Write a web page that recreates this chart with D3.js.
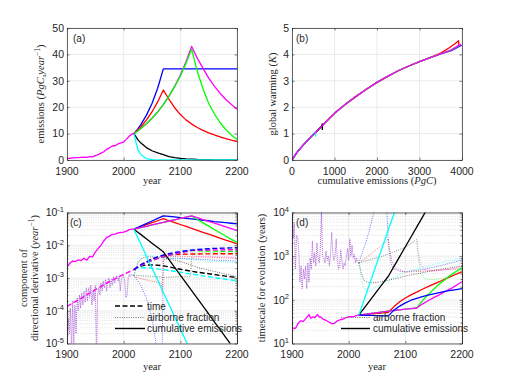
<!DOCTYPE html>
<html><head><meta charset="utf-8">
<script src="https://cdn.jsdelivr.net/npm/d3@7"></script>
<style>body{margin:0;background:#fff}</style></head>
<body>
<script>
// ---------------- DATA ----------------
// Panel (a): emissions (PgC/yr)
const histYears = [1900,1905,1910,1915,1920,1925,1930,1935,1940,1945,1950,1955,1960,1965,1970,1975,1980,1985,1990,1995,2000,2005,2010,2015,2018];
const histEmis  = [0.53,0.66,0.82,0.88,0.93,0.98,1.05,1.03,1.30,1.20,1.63,2.04,2.58,3.13,4.05,4.62,5.30,5.40,6.10,6.45,6.80,7.90,9.10,9.90,10.0];
const scenYears = [2018,2025,2030,2040,2050,2060,2070,2080,2090,2100,2110,2120,2130,2140,2150,2160,2170,2180,2190,2200];
const emisBlue    = [10,11.8,13.3,16.9,21.4,27.2,34.5,34.5,34.5,34.5,34.5,34.5,34.5,34.5,34.5,34.5,34.5,34.5,34.5,34.5];
const emisRed     = [10,11.4,12.5,15.1,18.2,22.0,26.5,23.0,19.8,17.2,15.2,13.6,12.3,11.2,10.3,9.5,8.8,8.1,7.5,7.0];
const emisMagenta = [10,11.0,11.9,13.7,15.8,18.2,21.0,24.2,27.9,32.2,37.2,43.0,38.5,34.8,31.0,28.0,25.3,23.0,21.0,19.2];
const emisGreen   = [10,11.0,11.9,13.7,15.8,18.2,21.0,24.2,27.8,31.8,36.6,42.0,33.5,27.0,21.5,17.5,14.2,11.6,9.5,7.8];
const emisBlack   = [10,7.7,6.5,4.7,3.5,2.7,2.0,1.3,0.9,0.6,0.42,0.3,0.2,0.15,0.12,0.08,0.06,0.04,0.03,0.02];
const emisCyan    = [10,4.0,2.1,0.55,0.15,0.05,0.02,0.01,0,0,0,0,0,0,0,0,0,0,0,0];

// Panel (b): warming vs cumulative emissions
const cumBase  = [0,100,200,300,400,500,600,800,1000,1250,1500,1750,2000,2250,2500,2750,3000,3250,3500];
const warmBase = [0,0.25,0.45,0.63,0.8,0.96,1.12,1.45,1.77,2.1,2.4,2.68,2.94,3.17,3.38,3.56,3.73,3.88,4.02];
const cumTailBlue = [3750,3990],            warmTailBlue = [4.14,4.35];
const cumTailGreen = [3750,3950],           warmTailGreen = [4.16,4.35];
const cumTailMagenta = [3750,3960,3960],    warmTailMagenta = [4.17,4.38,4.31];
const cumTailRed = [3500,3700,3850,3920,3925], warmTailRed = [4.05,4.25,4.42,4.52,4.36];
const cumBlack = [0,100,200,300,400,500,600,690,714,714], warmBlack = [0,0.25,0.45,0.63,0.8,0.96,1.12,1.27,1.37,1.14];
const cumCyan  = [0,100,200,300,400,500,558,558],         warmCyan  = [0,0.25,0.45,0.63,0.8,0.96,1.08,0.89];

// Panel (c): components of directional derivative (1/yr)
const cSolidHist = [2.1e-3,2.8e-3,3.3e-3,3.2e-3,3.6e-3,3.4e-3,4.0e-3,3.5e-3,4.6e-3,4.4e-3,6.2e-3,8.0e-3,1.0e-2,1.35e-2,1.75e-2,1.9e-2,2.15e-2,2.2e-2,2.4e-2,2.45e-2,2.5e-2,2.7e-2,3.0e-2,3.1e-2,3.1e-2];
const cSolidBlue    = [3.1e-2,3.5e-2,3.85e-2,4.6e-2,5.5e-2,6.6e-2,7.9e-2,7.6e-2,7.3e-2,6.95e-2,6.65e-2,6.4e-2,6.1e-2,5.8e-2,5.6e-2,5.3e-2,5.1e-2,4.9e-2,4.7e-2,4.5e-2];
const cSolidRed     = [3.1e-2,3.42e-2,3.67e-2,4.23e-2,4.87e-2,5.6e-2,6.45e-2,5.6e-2,4.9e-2,4.3e-2,3.74e-2,3.27e-2,2.85e-2,2.48e-2,2.17e-2,1.89e-2,1.65e-2,1.44e-2,1.26e-2,1.1e-2];
const cSolidMagenta = [3.1e-2,3.3e-2,3.46e-2,3.8e-2,4.16e-2,4.56e-2,5.0e-2,5.5e-2,6.0e-2,6.6e-2,7.2e-2,7.9e-2,6.98e-2,6.1e-2,5.4e-2,4.7e-2,4.16e-2,3.65e-2,3.2e-2,2.8e-2];
const cSolidGreen   = [3.1e-2,3.3e-2,3.46e-2,3.8e-2,4.16e-2,4.56e-2,5.0e-2,5.5e-2,6.0e-2,6.6e-2,7.2e-2,7.8e-2,6.1e-2,4.84e-2,3.84e-2,3.04e-2,2.41e-2,1.91e-2,1.51e-2,1.23e-2];
const cSolidBlack   = [3.1e-2,2.5e-2,2.15e-2,1.58e-2,1.16e-2,8.6e-3,6.3e-3,3.66e-3,2.11e-3,1.22e-3,7.1e-4,4.1e-4,2.38e-4,1.38e-4,8.0e-5,4.6e-5,2.7e-5,1.55e-5,8.9e-6,5.2e-6];
const cSolidCyan    = [3.1e-2,1.7e-2,1.11e-2,4.7e-3,2.0e-3,8.6e-4,3.6e-4,1.55e-4,6.6e-5,2.8e-5,1.2e-5,5.1e-6,2.2e-6,9e-7,4e-7,1.7e-7,7e-8,3e-8,1.3e-8,5e-9];
const cDashHistYears = [1900,1925,1950,1975,2000,2018];
const cDashHist      = [1.35e-4,2.4e-4,4.4e-4,7.8e-4,1.3e-3,1.8e-3];
const cDashBlue    = [1.8e-3,2.2e-3,2.5e-3,3.1e-3,3.8e-3,4.4e-3,5.0e-3,5.5e-3,6.0e-3,6.4e-3,6.8e-3,7.1e-3,7.4e-3,7.6e-3,7.8e-3,8.0e-3,8.1e-3,8.2e-3,8.3e-3,8.4e-3];
const cDashRed     = [1.8e-3,2.2e-3,2.5e-3,3.1e-3,3.7e-3,4.3e-3,4.9e-3,5.1e-3,5.2e-3,5.3e-3,5.35e-3,5.4e-3,5.4e-3,5.45e-3,5.45e-3,5.5e-3,5.5e-3,5.5e-3,5.5e-3,5.5e-3];
const cDashMagenta = [1.8e-3,2.1e-3,2.4e-3,2.9e-3,3.4e-3,3.9e-3,4.4e-3,4.9e-3,5.4e-3,5.9e-3,6.4e-3,6.9e-3,7.0e-3,7.1e-3,7.1e-3,7.2e-3,7.2e-3,7.3e-3,7.3e-3,7.3e-3];
const cDashGreen   = [1.8e-3,2.1e-3,2.4e-3,2.9e-3,3.4e-3,3.9e-3,4.4e-3,4.9e-3,5.4e-3,5.9e-3,6.4e-3,6.9e-3,6.8e-3,6.7e-3,6.65e-3,6.6e-3,6.55e-3,6.5e-3,6.5e-3,6.5e-3];
const cDashBlack   = [1.8e-3,2.1e-3,2.3e-3,2.5e-3,2.5e-3,2.45e-3,2.35e-3,2.2e-3,2.0e-3,1.85e-3,1.72e-3,1.6e-3,1.5e-3,1.42e-3,1.35e-3,1.28e-3,1.2e-3,1.14e-3,1.08e-3,1.03e-3];
const cDashCyan    = [1.8e-3,2.0e-3,2.05e-3,2.05e-3,2.0e-3,1.9e-3,1.8e-3,1.7e-3,1.6e-3,1.5e-3,1.4e-3,1.32e-3,1.24e-3,1.16e-3,1.1e-3,1.03e-3,9.7e-4,9.2e-4,8.7e-4,8.3e-4];
const cDotHistYears = [1900,1902,1904,1906,1908,1910,1912,1914,1916,1918,1920,1922,1924,1926,1928,1930,1932,1934,1936,1938,1940,1942,1944,1946,1948,1950,1952,1954,1956,1958,1960,1962,1964,1966,1968,1970,1972,1974,1976,1978,1980,1982,1984,1986,1988,1990,1992,1994,1996,1998,2000,2002,2004,2006,2008,2010,2012,2014,2016,2018];
const cDotHist = [3e-6,6e-5,2e-5,1.2e-4,5e-6,2e-4,1e-5,1.5e-4,2e-5,2.5e-4,1.0e-4,3e-4,1.2e-4,3.5e-4,1.5e-4,4e-4,1.8e-4,5e-4,2e-4,5e-4,2.5e-4,6e-4,1.5e-4,4e-4,2e-4,6e-4,3e-6,3e-4,5e-4,3e-4,7e-4,4e-4,8e-4,5e-4,9e-4,4e-4,8e-4,1e-3,5e-4,9e-4,6e-4,1.1e-3,7e-4,1.0e-3,1.2e-3,8e-4,1.1e-3,4e-4,9e-4,1.1e-3,1.2e-3,8e-4,2.5e-4,3e-4,1.0e-3,1.3e-3,1.1e-3,1.3e-3,1.2e-3,1.2e-3];
const cDotBlueYears = [2018,2030,2040,2050,2058,2062,2066,2068,2070,2080,2100,2150,2200];
const cDotBlue      = [1.2e-3,6e-4,2.5e-4,6e-5,8e-6,3e-6,3e-6,8e-6,3.5e-3,4.0e-3,4.0e-3,3.6e-3,3.3e-3];
const cDotRedYears  = [2018,2030,2050,2066,2068,2070,2080,2100,2150,2200];
const cDotRed       = [1.1e-3,9.5e-4,8e-4,7e-4,3.5e-4,4.2e-3,4.5e-3,4.6e-3,4.3e-3,4.0e-3];
const cDotMagentaYears = [2018,2040,2070,2100,2118,2120,2125,2150,2200];
const cDotMagenta      = [1.2e-3,1.15e-3,1.05e-3,1.1e-3,1.1e-3,4.0e-3,4.6e-3,4.6e-3,4.3e-3];
const cDotGreenYears   = [2018,2040,2070,2100,2118,2120,2125,2150,2200];
const cDotGreen        = [1.2e-3,1.15e-3,1.05e-3,1.1e-3,1.1e-3,4.5e-3,5.5e-3,5.8e-3,5.6e-3];
const cDotBlackYears = [2018,2025,2030,2040,2070,2100,2135,2200];
const cDotBlack      = [1.2e-3,2.8e-3,3.8e-3,4.5e-3,4.2e-3,3.2e-3,2.0e-3,1.1e-3];
const cDotCyanYears  = [2018,2022,2025,2030,2040,2050,2070,2100,2150,2200];
const cDotCyan       = [1.2e-3,2.2e-3,3.5e-3,4.8e-3,5.0e-3,4.8e-3,4.3e-3,3.8e-3,3.3e-3,3.0e-3];

// Panel (d): timescale for evolution (years)
const dSolidHistYears = [1900,1905,1908,1910,1915,1920,1925,1930,1933,1937,1940,1945,1948,1950,1955,1960,1965,1970,1975,1980,1985,1990,1995,2000,2005,2010,2015,2018];
const dSolidHist = [23,22,24,28,33,32,38,46,38,41,39,46,40,41,36,34,31,28.5,29,33,35,36,39,41,41,42,44,45];
const dSolidBlue    = [45,44.5,44,44,43.5,43,43,58,72,85,98,108,118,128,137,147,156,164,172,180];
const dSolidRed     = [45,45.5,46,47.5,49,50.5,52,70,90,110,130,150,175,200,230,260,300,340,390,440];
const dSolidMagenta = [45,46,47,49,51,53,55,57,59,61,63,65,80,95,112,130,155,180,215,260];
const dSolidGreen   = [45,46,47,49,51,53,55,57,59,61,63,65,95,130,175,230,290,370,450,540];
const dSolidBlack   = [45,59,72,107,158,235,347,582,977,1640,2750,4620,7760,13000,21800,36500,61000,1e5,1.7e5,2.8e5];
const dSolidCyan    = [45,82,127,300,713,1690,4010,9500,22500,53000,1.25e5,3e5,7e5,1.6e6,3.8e6,9e6,2e7,5e7,1e8,2.5e8];
const dDotHistYears = cDotHistYears;
const dDotHist = [12000,2500,6000,500,3000,2800,1200,250,600,180,500,300,600,180,700,250,900,500,2200,700,1200,600,2000,900,700,1500,12000,1000,900,700,1300,800,1000,600,1100,3500,1200,800,1000,2500,900,500,600,1400,800,500,700,600,1000,1500,800,2500,1000,1800,900,1100,700,900,750,700];
const dDotBlueYears = [2018,2025,2030,2035,2040,2045,2050,2066,2068,2070,2075,2080,2090,2100,2125,2150,2175,2200];
const dDotBlue      = [700,1300,2000,3300,6000,11000,20000,20000,8000,1800,650,520,450,440,480,560,670,820];
const dDotCyanYears = [2018,2022,2026,2030,2035,2040,2050,2060,2080,2100,2150,2200];
const dDotCyan      = [700,350,200,160,155,165,200,240,330,430,650,900];
const dDotBlackYears = [2018,2022,2026,2030,2040,2050,2060,2070,2100,2150,2200];
const dDotBlack      = [700,420,300,260,245,250,265,280,350,470,600];
const dDotRedYears = [2018,2030,2040,2050,2060,2068,2070,2072,2076,2080,2090,2100,2150,2200];
const dDotRed      = [700,900,1150,1450,1850,2300,2500,1500,800,600,480,430,470,520];
const dDotMagentaYears = [2018,2040,2060,2080,2100,2118,2120,2123,2127,2135,2150,2200];
const dDotMagenta      = [700,850,1000,1250,1600,2300,2400,1200,650,480,450,560];
const dDotGreenYears = [2018,2040,2060,2080,2100,2118,2120,2123,2127,2135,2150,2175,2200];
const dDotGreen      = [700,850,1000,1250,1600,2300,2400,900,400,300,290,330,480];

// Ticks
const yearTicks = [1900,2000,2100,2200];
const emisTicks = [0,10,20,30,40,50];
const cumTicks  = [0,1000,2000,3000,4000];
const warmTicks = [0,1,2,3,4,5];
const cExps = [-5,-4,-3,-2,-1];
const dExps = [1,2,3,4];

// ---------------- DRAW ----------------
const AX = '#262626';
const COL = {blue:'#0000ff', red:'#ff0000', green:'#00ff00', magenta:'#ff00ff', black:'#000000', cyan:'#00ffff', hist:'#ff00ff', histDot:'#9a40d0'};
const svg = d3.select('body').append('svg').attr('width',512).attr('height',385)
  .style('font-family','"Liberation Sans", Arial, sans-serif');
const defs = svg.append('defs');

function panel(o){
  const x = d3.scaleLinear().domain(o.xd).range([o.l,o.r]);
  const y = (o.log ? d3.scaleLog() : d3.scaleLinear()).domain(o.yd).range([o.b,o.t]);
  const g = svg.append('g');
  if (o.log){
    const e0 = Math.round(Math.log10(o.yd[0])), e1 = Math.round(Math.log10(o.yd[1]));
    for (let e=e0; e<e1; e++) for (let m=2; m<=9; m++){
      const v = m*Math.pow(10,e);
      g.append('line').attr('x1',o.l).attr('x2',o.r).attr('y1',y(v)).attr('y2',y(v))
        .attr('stroke','#cfcfcf').attr('stroke-width',0.6).attr('stroke-dasharray','1,1.2');
    }
  }
  o.xt.forEach(v => g.append('line').attr('x1',x(v)).attr('x2',x(v)).attr('y1',o.t).attr('y2',o.b)
      .attr('stroke','#e2e2e2').attr('stroke-width',0.7));
  o.yt.forEach(v => g.append('line').attr('x1',o.l).attr('x2',o.r).attr('y1',y(v)).attr('y2',y(v))
      .attr('stroke','#e2e2e2').attr('stroke-width',0.7));
  defs.append('clipPath').attr('id','clip'+o.id).append('rect')
    .attr('x',o.l).attr('y',o.t).attr('width',o.r-o.l).attr('height',o.b-o.t);
  const data = svg.append('g').attr('clip-path',`url(#clip${o.id})`);
  return {x,y,g,data,o};
}

function line(p, xs, ys, color, style){
  const pts = xs.map((v,i)=>[v,ys[i]]);
  const gen = d3.line().x(d=>p.x(d[0])).y(d=>p.y(d[1]));
  const path = p.data.append('path').datum(pts).attr('d',gen).attr('fill','none')
    .attr('stroke',color).attr('stroke-linejoin','round');
  if (style==='solid') path.attr('stroke-width',1.3);
  if (style==='dash') path.attr('stroke-width',1.4).attr('stroke-dasharray','5,2.5');
  if (style==='dot') path.attr('stroke-width',1).attr('stroke-dasharray','1,1.3').attr('stroke-opacity',0.55);
  if (style==='histdot') path.attr('stroke-width',1).attr('stroke-dasharray','1,1').attr('stroke-opacity',0.8);
  return path;
}

function finish(p, xLabelFmt, yLabels){
  const o = p.o;
  const ax = svg.append('g').attr('color',AX);
  const ts = 2.5;
  ax.append('g').attr('transform',`translate(0,${o.b})`).call(d3.axisBottom(p.x).tickValues(o.xt).tickSize(-ts).tickSizeOuter(0).tickFormat(''));
  ax.append('g').attr('transform',`translate(0,${o.t})`).call(d3.axisTop(p.x).tickValues(o.xt).tickSize(-ts).tickSizeOuter(0).tickFormat(''));
  ax.append('g').attr('transform',`translate(${o.l},0)`).call(d3.axisLeft(p.y).tickValues(o.yt).tickSize(-ts).tickSizeOuter(0).tickFormat(''));
  ax.append('g').attr('transform',`translate(${o.r},0)`).call(d3.axisRight(p.y).tickValues(o.yt).tickSize(-ts).tickSizeOuter(0).tickFormat(''));
  if (o.log){
    const e0 = Math.round(Math.log10(o.yd[0])), e1 = Math.round(Math.log10(o.yd[1]));
    const minor=[]; for (let e=e0;e<e1;e++) for (let m=2;m<=9;m++) minor.push(m*Math.pow(10,e));
    ax.append('g').attr('transform',`translate(${o.l},0)`).call(d3.axisLeft(p.y).tickValues(minor).tickSize(-1.5).tickSizeOuter(0).tickFormat(''));
    ax.append('g').attr('transform',`translate(${o.r},0)`).call(d3.axisRight(p.y).tickValues(minor).tickSize(-1.5).tickSizeOuter(0).tickFormat(''));
  }
  ax.selectAll('path.domain').attr('stroke',AX).attr('stroke-width',0.7);
  ax.selectAll('line').attr('stroke-width',0.6);
  // tick labels
  o.xt.forEach(v => svg.append('text').attr('x',p.x(v)).attr('y',o.b+14.5).attr('text-anchor','middle')
      .attr('font-size',10.5).attr('fill',AX).text(xLabelFmt(v)));
  yLabels.forEach(l => {
    const t = svg.append('text').attr('x',o.l-3).attr('y',p.y(l.v)+3.8).attr('text-anchor','end')
      .attr('font-size',10.5).attr('fill',AX);
    t.append('tspan').text(l.base);
    if (l.sup) t.append('tspan').attr('dy',-4.5).attr('font-size',7.5).text(l.sup);
  });
}

function ytitle(x, cy, parts){
  const t = svg.append('text').attr('transform',`translate(${x},${cy}) rotate(-90)`).attr('text-anchor','middle')
    .attr('font-family','"Liberation Serif", "Times New Roman", serif').attr('font-size',10.5).attr('fill',AX);
  parts.forEach(pt => { const s=t.append('tspan').text(pt.t); if(pt.i) s.attr('font-style','italic'); if(pt.sup) s.attr('dy',-4).attr('font-size',7.5); if(pt.down) s.attr('dy',4); });
}
function xtitle(cx, y, parts){
  const t = svg.append('text').attr('x',cx).attr('y',y).attr('text-anchor','middle')
    .attr('font-family','"Liberation Serif", "Times New Roman", serif').attr('font-size',10.5).attr('fill',AX);
  parts.forEach(pt => { const s=t.append('tspan').text(pt.t); if(pt.i) s.attr('font-style','italic'); });
}
function tag(x,y,s){ svg.append('text').attr('x',x).attr('y',y).attr('font-size',10).attr('fill',AX).text(s); }

const fmt = d => String(d);

// ---- (a)
const pa = panel({id:'a', l:67, r:237, t:28, b:160, xd:[1900,2200], yd:[0,50], xt:yearTicks, yt:emisTicks});
line(pa, scenYears, emisBlue, COL.blue, 'solid');
line(pa, scenYears, emisRed, COL.red, 'solid');
line(pa, scenYears, emisMagenta, COL.magenta, 'solid');
line(pa, scenYears, emisGreen, COL.green, 'solid');
line(pa, scenYears, emisBlack, COL.black, 'solid');
line(pa, scenYears, emisCyan, COL.cyan, 'solid');
line(pa, histYears, histEmis, COL.hist, 'solid');
finish(pa, fmt, emisTicks.map(v=>({v, base:String(v)})));
tag(73,42,'(a)');
xtitle(152,184,[{t:'year'}]);
ytitle(44,94,[{t:'emissions ('},{t:'PgC,year',i:true},{t:'−1',sup:true},{t:')',down:true}]);

// ---- (b)
const pb = panel({id:'b', l:292, r:462, t:28, b:160, xd:[0,4000], yd:[0,5], xt:cumTicks, yt:warmTicks});
line(pb, cumBase.concat(cumTailBlue), warmBase.concat(warmTailBlue), COL.blue, 'solid');
line(pb, cumBase.slice(0,18).concat(cumTailRed), warmBase.slice(0,18).concat(warmTailRed), COL.red, 'solid');
line(pb, cumBase.concat(cumTailGreen), warmBase.concat(warmTailGreen), COL.green, 'solid');
line(pb, cumBlack, warmBlack, COL.black, 'solid');
line(pb, cumCyan, warmCyan, COL.cyan, 'solid');
line(pb, cumBase.concat(cumTailMagenta), warmBase.concat(warmTailMagenta), COL.magenta, 'solid');
finish(pb, fmt, warmTicks.map(v=>({v, base:String(v)})));
tag(296,42,'(b)');
xtitle(377,184,[{t:'cumulative emissions ('},{t:'PgC',i:true},{t:')'}]);
ytitle(276,94,[{t:'global warming ('},{t:'K',i:true},{t:')'}]);

// ---- (c)
const pc = panel({id:'c', l:67, r:237, t:212.5, b:343.5, xd:[1900,2200], yd:[1e-5,1e-1], xt:yearTicks, yt:cExps.map(e=>Math.pow(10,e)), log:true});
line(pc, cDotHistYears, cDotHist, COL.histDot, 'histdot');
line(pc, cDotBlueYears, cDotBlue, COL.blue, 'dot');
line(pc, cDotRedYears, cDotRed, COL.red, 'dot');
line(pc, cDotMagentaYears, cDotMagenta, COL.magenta, 'dot');
line(pc, cDotGreenYears, cDotGreen, COL.green, 'dot');
line(pc, cDotBlackYears, cDotBlack, COL.black, 'dot');
line(pc, cDotCyanYears, cDotCyan, COL.cyan, 'dot');
line(pc, scenYears, cDashBlack, COL.black, 'dash');
line(pc, scenYears, cDashCyan, COL.cyan, 'dash');
line(pc, scenYears, cDashRed, COL.red, 'dash');
line(pc, scenYears, cDashGreen, COL.green, 'dash');
line(pc, scenYears, cDashMagenta, COL.magenta, 'dash');
line(pc, scenYears, cDashBlue, COL.blue, 'dash');
line(pc, cDashHistYears, cDashHist, COL.hist, 'dash');
line(pc, scenYears, cSolidRed, COL.red, 'solid');
line(pc, scenYears, cSolidBlue, COL.blue, 'solid');
line(pc, scenYears, cSolidGreen, COL.green, 'solid');
line(pc, scenYears, cSolidMagenta, COL.magenta, 'solid');
line(pc, scenYears, cSolidBlack, COL.black, 'solid');
line(pc, scenYears, cSolidCyan, COL.cyan, 'solid');
line(pc, histYears, cSolidHist, COL.hist, 'solid');
finish(pc, fmt, cExps.map(e=>({v:Math.pow(10,e), base:'10', sup:String(e)})));
tag(70,226,'(c)');
xtitle(152,370,[{t:'year'}]);
ytitle(27,278,[{t:'component of'}]);
ytitle(38,278,[{t:'directional derivative ('},{t:'year',i:true},{t:'−1',sup:true},{t:')',down:true}]);
// legend (c)
const legC = [{s:'dash', t:'time', y:306}, {s:'dot', t:'airborne fraction', y:317.5}, {s:'solid', t:'cumulative emissions', y:328.5}];
legC.forEach(d => {
  const l = svg.append('line').attr('x1',115).attr('x2',145).attr('y1',d.y).attr('y2',d.y).attr('stroke','#000');
  if (d.s==='dash') l.attr('stroke-width',1.4).attr('stroke-dasharray','5,2.5');
  if (d.s==='dot') l.attr('stroke-width',1).attr('stroke-dasharray','1,1.3').attr('stroke','#777');
  if (d.s==='solid') l.attr('stroke-width',1.4);
  svg.append('text').attr('x',147).attr('y',d.y+3.5).attr('font-size',10).attr('fill',AX).text(d.t);
});

// ---- (d)
const pd = panel({id:'d', l:292, r:462, t:212.5, b:343.5, xd:[1900,2200], yd:[10,1e4], xt:yearTicks, yt:dExps.map(e=>Math.pow(10,e)), log:true});
line(pd, dDotHistYears, dDotHist, COL.histDot, 'histdot');
line(pd, dDotBlueYears, dDotBlue, COL.blue, 'dot');
line(pd, dDotRedYears, dDotRed, COL.red, 'dot');
line(pd, dDotMagentaYears, dDotMagenta, COL.magenta, 'dot');
line(pd, dDotGreenYears, dDotGreen, COL.green, 'dot');
line(pd, dDotBlackYears, dDotBlack, COL.black, 'dot');
line(pd, dDotCyanYears, dDotCyan, COL.cyan, 'dot');
line(pd, scenYears, dSolidRed, COL.red, 'solid');
line(pd, scenYears, dSolidGreen, COL.green, 'solid');
line(pd, scenYears, dSolidMagenta, COL.magenta, 'solid');
line(pd, scenYears, dSolidBlue, COL.blue, 'solid');
line(pd, scenYears, dSolidBlack, COL.black, 'solid');
line(pd, scenYears, dSolidCyan, COL.cyan, 'solid');
line(pd, dSolidHistYears, dSolidHist, COL.hist, 'solid');
finish(pd, fmt, dExps.map(e=>({v:Math.pow(10,e), base:'10', sup:String(e)})));
tag(296,226,'(d)');
xtitle(377,370,[{t:'year'}]);
ytitle(265,278,[{t:'timescale for evolution (years)'}]);
const legD = [{s:'dot', t:'airborne fraction', y:317.5}, {s:'solid', t:'cumulative emissions', y:328.5}];
legD.forEach(d => {
  const l = svg.append('line').attr('x1',341).attr('x2',370).attr('y1',d.y).attr('y2',d.y).attr('stroke','#000');
  if (d.s==='dot') l.attr('stroke-width',1).attr('stroke-dasharray','1,1.3').attr('stroke','#777');
  if (d.s==='solid') l.attr('stroke-width',1.4);
  svg.append('text').attr('x',373).attr('y',d.y+3.5).attr('font-size',10).attr('fill',AX).text(d.t);
});
</script>
</body></html>
